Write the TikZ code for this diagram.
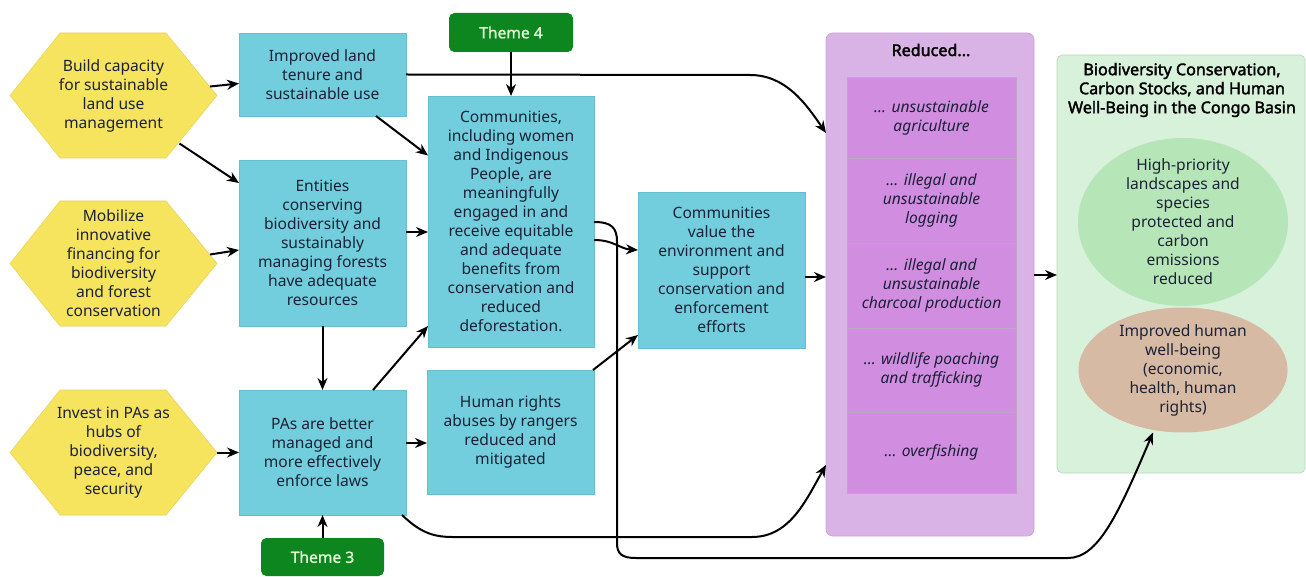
\documentclass[tikz,border=0pt]{standalone}
\usepackage{fontspec}
\setmainfont{Noto Sans}[BoldFont={Noto Sans},BoldFeatures={FakeBold=2.2}]
\newfontfamily\themefont{Noto Sans}[FakeBold=1.2]
\usetikzlibrary{arrows.meta,shapes.geometric,backgrounds,calc}
\definecolor{hexY}{HTML}{F6E35E}
\definecolor{hexB}{HTML}{E6D35A}
\definecolor{cyanF}{HTML}{72CDDC}
\definecolor{cyanB}{HTML}{66BFCF}
\definecolor{themeG}{HTML}{0E861F}
\definecolor{themeT}{HTML}{E2F6D8}
\definecolor{purO}{HTML}{D9B3E5}
\definecolor{purOB}{HTML}{CCA4D8}
\definecolor{purI}{HTML}{D18DE0}
\definecolor{purIB}{HTML}{BFA6C6}
\definecolor{grnC}{HTML}{D7F1DB}
\definecolor{grnCB}{HTML}{BCD9C0}
\definecolor{ellG}{HTML}{B6E6B8}
\definecolor{ellT}{HTML}{D7BAA3}
\definecolor{txt}{HTML}{1B2238}
\begin{document}
\begin{tikzpicture}[x=0.75pt,y=-0.75pt,
  every node/.style={inner sep=0pt, outer sep=0pt, align=center, text=txt,
    font=\fontsize{11.7}{14.25}\selectfont},
  cbox/.style={fill=cyanF, draw=cyanB, line width=0.4pt},
  theme/.style={fill=themeG, rounded corners=4pt, text=themeT,
    font=\themefont\fontsize{11.7}{14.25}\selectfont},
  outerP/.style={fill=purO, draw=purOB, line width=0.5pt, rounded corners=5pt},
  innerP/.style={fill=purI, draw=purIB, line width=0.6pt, minimum width=126.75pt,
    font=\fontsize{11.7}{14.25}\selectfont\itshape},
  goalbox/.style={fill=grnC, draw=grnCB, line width=0.5pt, rounded corners=4pt},
  titleB/.style={font=\fontsize{12.1}{14.25}\selectfont\bfseries, text=black},
  hexnode/.style={minimum width=155.25pt, minimum height=93.75pt},
  hexfill/.style={fill=hexY, draw=hexB, line width=0.4pt},
  arr/.style={-{Stealth[length=9pt,width=7.5pt]}, line width=1.5pt, black},
]
\useasboundingbox (0,0) rectangle (1306,577);

% hexagons (text nodes)
\node[hexnode] (h1) at (113.5,95.5) {Build capacity\\for sustainable\\land use\\management};
\node[hexnode] (h2) at (113.5,263.5) {Mobilize\\innovative\\financing for\\biodiversity\\and forest\\conservation};
\node[hexnode] (h3) at (113.5,452.5) {Invest in PAs as\\hubs of\\biodiversity,\\peace, and\\security};
\begin{scope}[on background layer]
  \fill[white] (0,0) rectangle (1306,577);
  \foreach \h in {h1,h2,h3}{
    \path[hexfill] (\h.west) -- ($(\h.north west)+(50,0)$) -- ($(\h.north east)+(-51,0)$)
      -- (\h.east) -- ($(\h.south east)+(-51,0)$) -- ($(\h.south west)+(50,0)$) -- cycle;
  }
\end{scope}

% cyan boxes
\node[cbox, minimum width=125.25pt, minimum height=62.25pt] (land) at (322.5,74.5) {Improved land\\tenure and\\sustainable use};
\node[cbox, minimum width=125.25pt, minimum height=124.5pt] (ent) at (322.5,243) {Entities\\conserving\\biodiversity and\\sustainably\\managing forests\\have adequate\\resources};
\node[cbox, minimum width=125.25pt, minimum height=93.75pt] (pas) at (322.5,452.5) {PAs are better\\managed and\\more effectively\\enforce laws};
\node[cbox, minimum width=124.5pt, minimum height=188.25pt] (comm) at (511,221.5) {Communities,\\including women\\and Indigenous\\People, are\\meaningfully\\engaged in and\\receive equitable\\and adequate\\benefits from\\conservation and\\reduced\\deforestation.};
\node[cbox, minimum width=125.25pt, minimum height=93pt] (hr) at (510.5,432) {Human rights\\abuses by rangers\\reduced and\\mitigated};
\node[cbox, minimum width=125.25pt, minimum height=117pt] (cv) at (721.5,270) {Communities\\value the\\environment and\\support\\conservation and\\enforcement\\efforts};

% themes
\node[theme, minimum width=93pt, minimum height=29.25pt] (th4) at (511,32.5) {Theme 4};
\node[theme, minimum width=92.25pt, minimum height=28.5pt] (th3) at (322.5,557) {Theme 3};

% reduced column
\node[outerP, minimum width=156pt, minimum height=377.25pt] (red) at (930,284.5) {};
\node[titleB] (redt) at (931,50) {Reduced...};
\node[innerP, minimum height=60.75pt] (r1) at (931.5,117.5) {... unsustainable\\agriculture};
\node[innerP, minimum height=63.75pt] (r2) at (931.5,200.5) {... illegal and\\unsustainable\\logging};
\node[innerP, minimum height=63.75pt] (r3) at (931.5,285.5) {... illegal and\\unsustainable\\charcoal production};
\node[innerP, minimum height=63pt] (r4) at (931.5,370) {... wildlife poaching\\and trafficking};
\node[innerP, minimum height=60.75pt] (r5) at (931.5,452.5) {... overfishing};

% goal
\node[goalbox, minimum width=186pt, minimum height=313.5pt] (goal) at (1181,264) {};
\node[titleB] (goalt) at (1182,90) {Biodiversity Conservation,\\Carbon Stocks, and Human\\Well-Being in the Congo Basin};
\node[ellipse, fill=ellG, minimum width=157.5pt, minimum height=126pt] (e1) at (1183,222) {};
\node (e1t) at (e1.center) {High-priority\\landscapes and\\species\\protected and\\carbon\\emissions\\reduced};
\node[ellipse, fill=ellT, minimum width=156.75pt, minimum height=93.75pt] (e2) at (1183,370) {};
\node (e2t) at (e2.center) {Improved human\\well-being\\(economic,\\health, human\\rights)};

% connectors
\draw[arr] ([shift={(-7,-9)}]h1.east) -- ([shift={(0,9)}]land.west);
\draw[arr] ([shift={(66,48)}]h1.center) -- ([shift={(0,-60)}]ent.west);
\draw[arr] ([shift={(-7,-9)}]h2.east) -- ([shift={(0,7)}]ent.west);
\draw[arr] (h3.east) -- (pas.west |- h3.east);
\draw[arr] ([shift={(-30,0)}]land.south east) -- ([shift={(0,-66)}]comm.west);
\draw[arr] (land.east) -- (750,75) .. controls (786,75) and (806,104) .. ([shift={(0,-151.5)}]red.west);
\draw[arr] ([shift={(0,-11)}]ent.east) -- ([shift={(0,10.5)}]comm.west);
\draw[arr] (ent.south) -- (pas.north);
\draw[arr] ([shift={(-33,0)}]pas.north east) -- ([shift={(0,-21)}]comm.south west);
\draw[arr] ([shift={(0,-9.5)}]pas.east) -- (hr.west |- 0,443);
\draw[arr] (th3.north) -- (pas.south);
\draw[arr] (th4.south) -- (comm.north -| th4.south);
\draw[arr] ([shift={(0,18.5)}]comm.east) .. controls (614,240) and (620,249) .. ([shift={(0,-20)}]cv.west);
\draw[arr] ([shift={(-1,0)}]hr.north east) -- ([shift={(0,-13)}]cv.south west);
\draw[arr] (cv.east |- 0,277) -- (red.west |- 0,277);
\draw[arr] (red.east |- 0,275) -- (goal.west |- 0,275);
\draw[arr] ([shift={(-4,0)}]pas.south east) .. controls (418,530) and (430,537) .. (452,537)
  -- (752,537) .. controls (790,537) and (806,500) .. ([shift={(0,180.5)}]red.west);
\draw[arr] ([shift={(0,0.5)}]comm.east) .. controls (612,222) and (617,228) .. (617,242)
  -- (617,543) .. controls (617,554) and (622,558) .. (636,558)
  -- (1068,558) .. controls (1098,558) and (1118,515) .. ([shift={(-30,0)}]e2.south);
\end{tikzpicture}
\end{document}
